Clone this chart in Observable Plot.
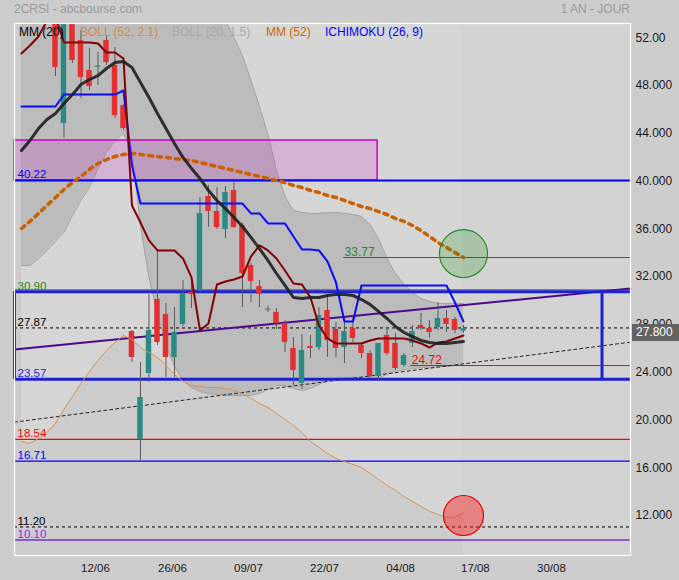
<!DOCTYPE html>
<html><head><meta charset="utf-8">
<script src="https://cdn.jsdelivr.net/npm/d3@7"></script>
<script src="https://cdn.jsdelivr.net/npm/@observablehq/plot@0.6"></script>
<style>
body{margin:0;background:#cdcdcd;font-family:"Liberation Sans",Arial,sans-serif;}
#wrap{position:relative;width:679px;height:580px;overflow:hidden;}
.ov{position:absolute;white-space:nowrap;font-size:12px;line-height:12px;}
</style></head><body><div id="wrap"></div>
<script>
// ---- candles (trading-day index 0..48) ----
const candleOpen  = [54.2,44.99,53.8,51.95,49.43,49.70,51.95,49.85,46.50,27.57,18.54,24.06,30.25,29.00,25.40,28.16,30.84,31.01,38.88,37.62,36.12,39.38,36.45,33.10,31.34,29.35,29.17,28.24,26.15,23.22,26.32,26.23,29.33,27.74,26.23,27.82,26.40,25.73,23.80,27.24,26.57,24.73,26.57,28.08,27.82,27.91,28.66,28.58,27.60];
const candleHigh  = [55.0,55.0,54.5,52.78,51.28,50.94,52.36,51.36,46.59,27.66,24.98,30.67,34.36,29.92,29.58,31.85,31.85,38.80,39.80,39.63,39.72,40.14,36.62,33.27,31.85,29.67,29.50,28.49,27.07,27.32,27.24,29.58,30.59,28.33,28.75,28.91,26.57,25.98,26.57,27.91,27.41,25.73,28.08,29.08,28.49,30.00,29.33,28.75,28.08];
const candleLow   = [48.93,43.74,50.02,47.09,47.76,48.18,49.85,45.41,44.41,24.98,16.71,23.30,26.40,23.72,23.72,27.99,29.50,30.84,36.28,36.12,35.36,36.20,29.58,30.00,29.58,29.17,27.74,25.81,23.05,22.72,25.31,25.98,25.40,25.40,24.89,26.65,25.31,23.64,23.47,25.56,24.31,24.56,26.23,27.66,26.99,27.66,27.49,27.41,27.41];
const candleClose = [49.68,54.0,50.27,48.85,48.09,49.80,50.10,45.66,44.57,25.40,22.05,27.66,26.65,25.40,27.49,30.76,30.67,37.46,37.62,36.28,39.21,36.28,32.43,31.76,30.67,29.45,28.24,26.65,24.31,25.98,26.15,28.91,26.82,26.15,27.57,26.99,25.73,23.80,26.57,25.73,24.47,25.56,27.57,27.82,27.49,28.66,28.16,27.66,27.80];

// ---- indicators (index -4..48) ----
const mm20 = [42.73,43.57,44.57,45.33,45.83,46.67,47.42,48.26,48.68,49.01,49.60,50.10,50.19,49.68,48.43,47.17,45.83,44.57,43.32,42.15,41.23,40.39,39.38,38.54,37.87,37.12,36.37,35.45,34.52,33.52,32.43,31.43,30.42,30.34,30.42,30.42,30.59,30.67,30.67,30.59,30.25,29.84,29.25,28.66,27.99,27.49,27.15,26.82,26.65,26.57,26.57,26.65,26.74];
const tenkan = [50.86,51.53,52.28,53.6,54.0,51.78,51.78,51.78,51.78,51.69,50.94,50.94,50.44,38.13,36.70,35.20,34.36,34.36,34.36,33.69,32.10,27.66,28.24,31.51,31.76,31.93,32.18,33.85,34.78,34.36,33.69,32.68,31.59,31.51,30.42,28.08,26.99,26.57,26.57,26.57,26.57,26.82,26.99,26.99,26.99,26.99,26.82,26.57,26.23,26.65,26.74,26.99,27.24];
const kijun = [46.42,46.42,46.42,46.42,46.42,47.42,47.42,47.42,47.42,47.42,47.42,47.42,47.76,41.48,38.29,38.29,38.29,38.29,38.29,38.29,38.29,38.29,38.29,38.29,38.29,38.29,38.29,37.46,37.46,36.62,36.62,36.62,35.53,34.44,34.44,34.36,33.44,31.68,28.41,28.41,31.43,31.43,31.43,31.43,31.43,31.43,31.43,31.43,31.43,31.43,31.43,30.00,28.41];
const mm52 = [36.20,36.79,37.46,38.13,38.80,39.47,40.05,40.56,41.14,41.64,41.98,42.23,42.40,42.48,42.40,42.31,42.23,42.15,42.06,41.98,41.89,41.73,41.56,41.39,41.23,41.06,40.89,40.72,40.56,40.39,40.22,40.05,39.80,39.63,39.38,39.21,38.96,38.80,38.55,38.29,38.04,37.87,37.62,37.37,37.04,36.79,36.45,36.03,35.53,35.03,34.61,34.19,33.77];
const boll52Low = [18.36,18.19,18.61,19.11,19.87,21.04,22.13,23.22,24.22,25.15,25.98,26.65,27.24,26.90,26.23,25.81,25.40,24.73,23.97,23.39,23.05,22.97,22.88,22.88,22.80,22.63,22.38,21.96,21.54,21.21,20.71,20.20,19.70,19.11,18.36,17.86,17.36,16.94,16.69,16.43,16.18,15.68,15.18,14.68,14.26,13.75,13.34,12.92,12.50,12.25,12.00,12.00,12.42];
const boll20Up = [56,57,58,58.5,59,59.5,60,60,60,60,60,60,60,61,62,62,62,61,60,59.5,59,58,56.5,55,53.6,52.20,50.69,48.59,46.42,44.07,41.06,38.88,37.71,37.54,37.46,37.46,37.54,37.54,37.46,37.37,37.21,36.54,35.36,33.69,32.43,31.51,30.84,30.34,30.09,29.92,29.92,29.92,29.92];
const boll20Low = [33.10,33.10,33.69,34.36,35.11,35.87,37.29,38.55,39.63,41.22,42.57,43.57,44.16,42.73,36.45,32.10,29.08,26.40,24.64,23.47,22.88,22.55,22.38,22.30,22.21,22.21,22.21,22.21,22.38,22.72,23.05,23.05,22.80,22.63,22.80,23.14,23.47,23.64,23.72,23.72,23.64,23.55,23.72,23.97,24.22,24.39,24.47,24.56,24.56,24.64,24.64,24.72,24.72];

// ---- levels, trend lines, ticks ----
const levelValues = [40.22, 30.90, 27.87, 23.57, 18.54, 16.71, 11.20, 10.10];
const levelColors = ["#0000ff", "#238b23", "#000000", "#1f1fe6", "#ff0000", "#0000ff", "#000000", "#8a2be2"];
const pinkZone = [40.22, 43.57];
const blueBox = [23.57, 30.90];
const targetLevel = 33.77;   // MM52 last
const supportLevel = 24.72;  // lower Bollinger last
const circleHigh = 34.1, circleLow = 12.16;
const supportTrend = [{i:-4.82, v:19.98}, {i:67.65, v:26.68}];
const resistTrend  = [{i:-4.82, v:26.07}, {i:67.65, v:31.17}];
const lastPrice = 27.80;
const yTicks = [52,48,44,40,36,32,28,24,20,16,12];
const yTickLabels = ["52.00","48.000","44.000","40.000","36.000","32.000","28.000","24.000","20.000","16.000","12.000"];
const xTickPos = [4.7, 13.76, 22.7, 31.65, 40.6, 49.4, 58.35];
const xTickLabels = ["12/06","26/06","09/07","22/07","04/08","17/08","30/08"];

// ---- layout ----
const X_MIN = -4.82, X_MAX = 67.65, Y_MIN = 8.81, Y_MAX = 53.37;
const PINK_END = 37.9, BOX_END = 64.3, TARGET_START = 33.9, SUPPORT_START = 41.8, LAST_I = 48;
const RED = "#e32f2f", TEAL = "#2c8a84";

const candles = candleOpen.map((o, i) => ({i, o, h: candleHigh[i], l: candleLow[i], c: candleClose[i]}));
const lines = d3.range(-4, 49).map((i, k) => ({i, mm20: mm20[k], tenkan: tenkan[k], kijun: kijun[k], mm52: mm52[k], b52: boll52Low[k], bUp: boll20Up[k], bLo: boll20Low[k]}));
const yLabelMap = new Map(yTicks.map((t, k) => [t, yTickLabels[k]]));
const xLabelMap = new Map(xTickPos.map((t, k) => [t, xTickLabels[k]]));
const one = [0];

const marks = [
  Plot.areaY(lines, {x: "i", y1: "b52", y2: () => Y_MAX, fill: "#d6d6d6", clip: true}),
  Plot.rect(one, {x1: () => LAST_I, x2: () => X_MAX, y1: () => Y_MIN, y2: () => Y_MAX, fill: "#ffffff", fillOpacity: 0.12}),
  Plot.areaY(lines, {x: "i", y1: "bLo", y2: "bUp", fill: "#8a8a8a", fillOpacity: 0.33, clip: true}),
  Plot.line(lines, {x: "i", y: "bUp", stroke: "#a2a2a2", strokeWidth: 1, clip: true}),
  Plot.line(lines, {x: "i", y: "bLo", stroke: "#a2a2a2", strokeWidth: 1, clip: true}),
  Plot.rect(one, {x1: () => X_MIN, x2: () => PINK_END, y1: () => pinkZone[0], y2: () => pinkZone[1], fill: "#cc00cc", fillOpacity: 0.17, stroke: "#cc00cc", strokeWidth: 1.5}),
  Plot.ruleY([levelValues[0]], {stroke: levelColors[0], strokeWidth: 2}),
  Plot.ruleY([levelValues[1]], {stroke: levelColors[1], strokeWidth: 1, dy: -2}),
  Plot.ruleY([levelValues[2]], {stroke: "#000", strokeWidth: 1, strokeDasharray: "3,3"}),
  Plot.ruleY([levelValues[4]], {stroke: levelColors[4], strokeWidth: 1.2}),
  Plot.ruleY([levelValues[5]], {stroke: levelColors[5], strokeWidth: 1.2}),
  Plot.ruleY([levelValues[6]], {stroke: "#000", strokeWidth: 1, strokeDasharray: "3,3"}),
  Plot.ruleY([levelValues[7]], {stroke: "#7b2fd6", strokeWidth: 1.5}),
  Plot.ruleY([targetLevel], {x1: () => TARGET_START, x2: () => X_MAX, stroke: "#1f7a1f", strokeWidth: 1}),
  Plot.ruleY([supportLevel], {x1: () => SUPPORT_START, x2: () => X_MAX, stroke: "#ff0000", strokeWidth: 1}),
  Plot.line(supportTrend, {x: "i", y: "v", stroke: "#222", strokeWidth: 1, strokeDasharray: "3,3"}),
  Plot.line(resistTrend, {x: "i", y: "v", stroke: "#4b0a8c", strokeWidth: 2}),
  Plot.ruleY(blueBox, {stroke: "#1f1fd6", strokeWidth: 3}),
  Plot.ruleX([X_MIN, BOX_END], {y1: () => blueBox[0], y2: () => blueBox[1], stroke: "#1f1fd6", strokeWidth: 3}),
  Plot.ruleX(candles, {x: "i", y1: "l", y2: "h", stroke: "#5a5a5a", strokeWidth: 1, clip: true}),
  Plot.rect(candles, {x1: d => d.i - 0.32, x2: d => d.i + 0.32, y1: "o", y2: "c", fill: d => d.c >= d.o ? TEAL : RED, clip: true}),
  Plot.line(lines, {x: "i", y: "b52", stroke: "#d99250", strokeWidth: 1, clip: true}),
  Plot.line(lines, {x: "i", y: "mm52", stroke: "#cc6000", strokeWidth: 3.5, strokeDasharray: "4,5", clip: true}),
  Plot.line(lines, {x: "i", y: "kijun", stroke: "#0a0aff", strokeWidth: 2, clip: true}),
  Plot.line(lines, {x: "i", y: "tenkan", stroke: "#850000", strokeWidth: 2, clip: true}),
  Plot.line(lines, {x: "i", y: "mm20", stroke: "#1e1e1e", strokeWidth: 3, strokeOpacity: 0.9, clip: true}),
  Plot.dot(one, {x: () => LAST_I, y: () => circleHigh, r: 24, fill: "#0a8a0a", fillOpacity: 0.2, stroke: "#2a8a2a", strokeWidth: 1.2}),
  Plot.dot(one, {x: () => LAST_I, y: () => circleLow, r: 20, fill: "#ff2020", fillOpacity: 0.45, stroke: "#e00000", strokeWidth: 1.2}),
  ...levelValues.map((v, k) => Plot.text([v], {x: () => X_MIN, y: d => d, text: d => d.toFixed(2), fill: levelColors[k], textAnchor: "start", lineAnchor: "bottom", dx: 3, dy: -2, fontSize: 11.5})),
  Plot.text([targetLevel], {x: () => TARGET_START, y: d => d, text: d => d.toFixed(2), fill: "#238b23", textAnchor: "start", lineAnchor: "bottom", dx: 1, dy: -2, fontSize: 12}),
  Plot.text([supportLevel], {x: () => SUPPORT_START, y: d => d, text: d => d.toFixed(2), fill: "#ff0000", textAnchor: "start", lineAnchor: "bottom", dx: 1, dy: -2, fontSize: 12}),
  Plot.axisY(yTicks, {anchor: "right", label: null, tickSize: 0, tickPadding: 5, dy: -2, tickFormat: d => yLabelMap.get(d), fontSize: 12}),
  Plot.axisX(xTickPos, {anchor: "bottom", label: null, tickSize: 0, tickPadding: 8, tickFormat: d => xLabelMap.get(d), fontSize: 11.5}),
  Plot.frame({stroke: "#ffffff", strokeWidth: 1.2})
];

const chart = Plot.plot({
  width: 679, height: 580,
  marginLeft: 14, marginRight: 49, marginTop: 23, marginBottom: 25,
  x: {domain: [X_MIN, X_MAX], axis: null, label: null},
  y: {domain: [Y_MIN, Y_MAX], axis: null, label: null},
  style: {background: "#cdcdcd", color: "#1a1a1a", fontFamily: "'Liberation Sans', Arial, sans-serif", fontSize: "12px"},
  marks
});
const wrap = document.getElementById("wrap");
wrap.appendChild(chart);

function ov(text, left, top, color, extra) {
  const d = document.createElement("div");
  d.className = "ov";
  d.textContent = text;
  d.style.left = left + "px";
  d.style.top = top + "px";
  d.style.color = color;
  if (extra) Object.assign(d.style, extra);
  wrap.appendChild(d);
  return d;
}
ov("2CRSI - abcbourse.com", 14, 3, "#9a9a9a");
ov("1 AN - JOUR", 0, 3, "#9a9a9a", {left: "auto", right: "49px"});
const legend = [["MM (20)", 19, "#000000"], ["BOLL (52, 2.1)", 80, "#d4894a"], ["BOLL (20, 1.5)", 172, "#a9a9a9"], ["MM (52)", 266, "#cc6600"], ["ICHIMOKU (26, 9)", 325, "#0000ff"]];
legend.forEach(([t, x, c]) => ov(t, x, 26, c));
const yPos = chart.scale("y").apply(lastPrice);
ov(lastPrice.toFixed(3), 632, Math.round(yPos) - 4, "#ffffff", {background: "#636363", width: "43px", height: "17px", lineHeight: "17px", paddingLeft: "4px"});
</script></body></html>
